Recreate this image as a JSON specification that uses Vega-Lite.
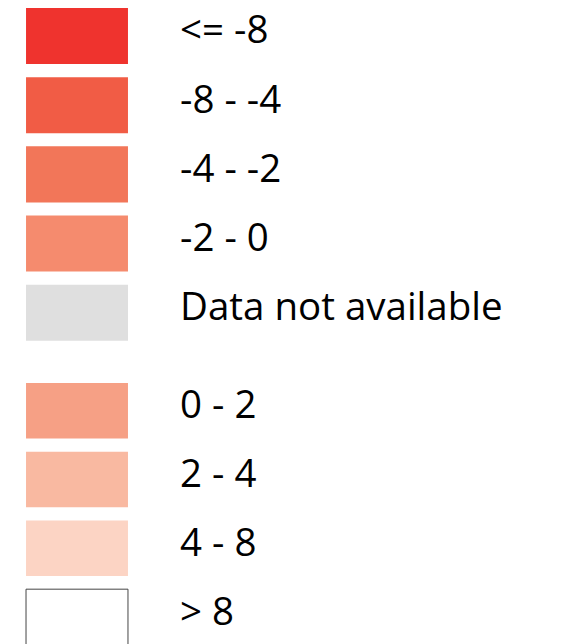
{
  "$schema": "https://vega.github.io/schema/vega-lite/v6.json",
  "padding": {"left": 0, "top": 1.4, "right": 0, "bottom": 0},
  "autosize": {"type": "pad"},
  "spacing": 29,
  "background": "white",
  "config": {"view": {"stroke": null}},
  "data": {
    "values": [
      {"label": "\u00a0<= -8", "section": "top"},
      {"label": "-8 - -4", "section": "top"},
      {"label": "-4 - -2", "section": "top"},
      {"label": "-2 - 0", "section": "top"},
      {"label": "Data not available", "section": "top"},
      {"label": "0 - 2", "section": "bottom"},
      {"label": "2 - 4", "section": "bottom"},
      {"label": "4 - 8", "section": "bottom"},
      {"label": "> 8", "section": "bottom"}
    ]
  },
  "vconcat": [
    {
      "transform": [{"filter": "datum.section === 'top'"}],
      "width": {"step": 154},
      "height": 346,
      "encoding": {
        "y": {"field": "label", "type": "nominal", "sort": null, "axis": null,
              "scale": {"paddingInner": 0.19, "paddingOuter": 0.095}}
      },
      "layer": [
        {
          "mark": {"type": "rect", "strokeWidth": 1},
          "encoding": {
            "x": {"datum": "swatch", "type": "nominal", "axis": null,
                  "scale": {"domain": ["swatch", "label"], "paddingInner": 0.338, "paddingOuter": 0.169}},
            "color": {"field": "label", "type": "nominal", "legend": null,
                      "scale": {"domain": ["\u00a0<= -8", "-8 - -4", "-4 - -2", "-2 - 0", "Data not available", "0 - 2", "2 - 4", "4 - 8", "> 8"],
                                "range": ["#ef332e", "#f15c45", "#f27659", "#f58b6e", "#dfdfdf", "#f6a085", "#f9b9a1", "#fcd4c4", "#ffffff"]}},
            "stroke": {"condition": {"test": "datum.label === '> 8'", "value": "#444444"}, "value": "transparent"}
          }
        },
        {
          "mark": {"type": "text", "align": "left", "baseline": "alphabetic", "dy": 7.5, "font": "Open Sans", "fontSize": 38.5, "color": "#000000"},
          "encoding": {
            "x": {"datum": "label", "type": "nominal", "bandPosition": 0},
            "text": {"field": "label"}
          }
        }
      ]
    },
    {
      "transform": [{"filter": "datum.section === 'bottom'"}],
      "width": {"step": 154},
      "height": 275,
      "encoding": {
        "y": {"field": "label", "type": "nominal", "sort": null, "axis": null,
              "scale": {"paddingInner": 0.19, "paddingOuter": 0.095}}
      },
      "layer": [
        {
          "mark": {"type": "rect", "strokeWidth": 1},
          "encoding": {
            "x": {"datum": "swatch", "type": "nominal", "axis": null,
                  "scale": {"domain": ["swatch", "label"], "paddingInner": 0.338, "paddingOuter": 0.169}},
            "color": {"field": "label", "type": "nominal", "legend": null},
            "stroke": {"condition": {"test": "datum.label === '> 8'", "value": "#444444"}, "value": "transparent"}
          }
        },
        {
          "mark": {"type": "text", "align": "left", "baseline": "alphabetic", "dy": 7.5, "font": "Open Sans", "fontSize": 38.5, "color": "#000000"},
          "encoding": {
            "x": {"datum": "label", "type": "nominal", "bandPosition": 0},
            "text": {"field": "label"}
          }
        }
      ]
    }
  ]
}
